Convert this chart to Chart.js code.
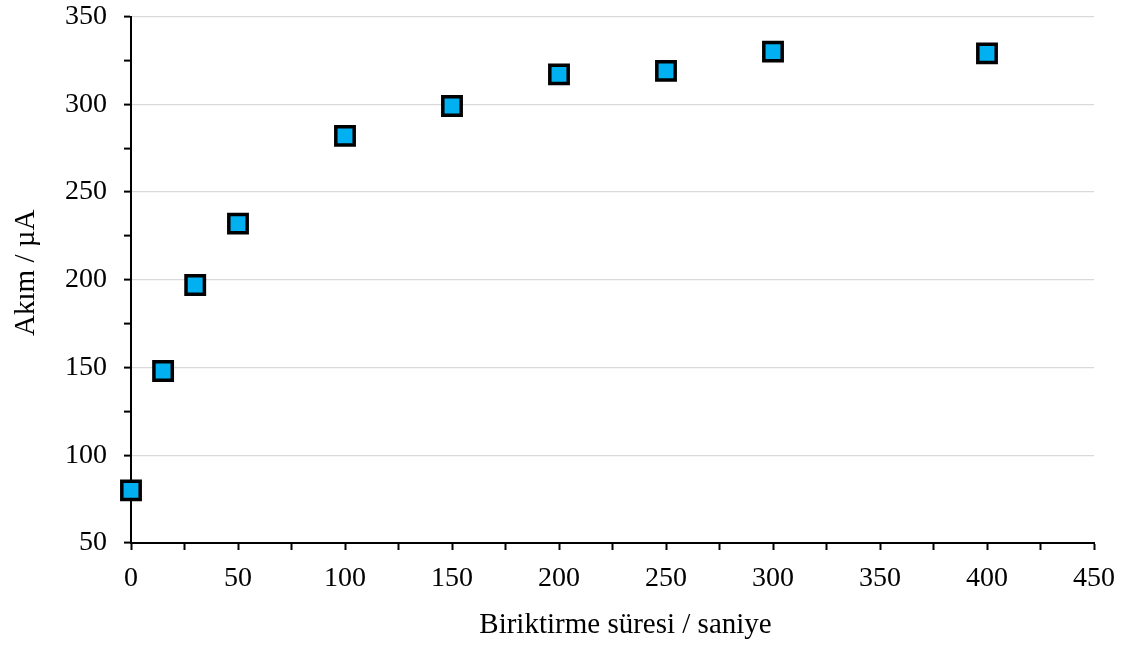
<!DOCTYPE html>
<html>
<head>
<meta charset="utf-8">
<script src="https://cdn.jsdelivr.net/npm/chart.js@4"></script>
<style>
  body { margin: 0; background: #fff; }
</style>
</head>
<body>
<canvas id="akimCanvas" width="1127" height="649"></canvas>
<script>
window.onload = function () {
    akimChartDraw();
}

// biriktirme süresi (s) ve akım (µA)
let times = [0, 15, 30, 50, 100, 150, 200, 250, 300, 400];
let currents = [80, 148, 197, 232, 282, 299, 317, 319, 330, 329];

let xTitle = 'Biriktirme süresi / saniye';
let yTitle = 'Akım / µA';

let serif = 'Liberation Serif, Times New Roman, serif';

// eksen başlıkları
let axisTitles = {
    id: 'axisTitles',
    afterDraw: function (chart) {
        let ctx = chart.ctx;
        let area = chart.chartArea;
        ctx.save();
        ctx.fillStyle = '#000';
        ctx.font = '29px ' + serif;
        ctx.textAlign = 'center';
        ctx.textBaseline = 'alphabetic';
        ctx.fillText(xTitle, (area.left + area.right) / 2 + 13, 633);
        ctx.translate(34, (area.top + area.bottom) / 2 - 7);
        ctx.rotate(-Math.PI / 2);
        ctx.fillText(yTitle, 0, 0);
        ctx.restore();
    }
};

let akimChartDraw = function () {
    let ctx = document.getElementById('akimCanvas').getContext('2d');

    let points = times.map(function (t, i) {
        return { x: t, y: currents[i] };
    });

    window.akimChart = new Chart(ctx, {
        type: 'scatter',
        data: {
            datasets: [{
                data: points,
                pointStyle: 'rect',
                pointRadius: 13,
                pointHoverRadius: 13,
                pointBackgroundColor: '#00b0f0',
                pointBorderColor: '#000',
                pointBorderWidth: 3.5,
                clip: false
            }]
        },
        options: {
            responsive: false,
            animation: false,
            layout: { padding: { top: 15, right: 33, left: 0, bottom: 0 } },
            plugins: {
                legend: { display: false },
                tooltip: { enabled: false }
            },
            scales: {
                x: {
                    type: 'linear',
                    min: 0,
                    max: 450,
                    afterFit: function (scale) {
                        scale.height = 106;
                        scale.paddingLeft = 0;
                        scale.paddingRight = 0;
                    },
                    border: { color: '#000', width: 2 },
                    grid: {
                        drawOnChartArea: false,
                        drawTicks: true,
                        tickLength: 7,
                        tickColor: '#000',
                        tickWidth: 2
                    },
                    ticks: {
                        stepSize: 25,
                        autoSkip: false,
                        maxRotation: 0,
                        padding: 12,
                        color: '#000',
                        font: { family: serif, size: 28 },
                        callback: function (v) { return v % 50 === 0 ? v : ''; }
                    }
                },
                y: {
                    min: 50,
                    max: 350,
                    afterFit: function (scale) {
                        scale.width = 131;
                        scale.paddingTop = 0;
                        scale.paddingBottom = 0;
                    },
                    border: { color: '#000', width: 2 },
                    grid: {
                        color: function (c) {
                            return c.tick && c.tick.value % 50 === 0 ? '#d9d9d9' : 'rgba(0,0,0,0)';
                        },
                        lineWidth: 1.2,
                        drawTicks: true,
                        tickLength: 7,
                        tickColor: '#000',
                        tickWidth: 2
                    },
                    ticks: {
                        stepSize: 25,
                        autoSkip: false,
                        padding: 17,
                        color: '#000',
                        font: { family: serif, size: 28 },
                        callback: function (v) { return v % 50 === 0 ? v : ''; }
                    }
                }
            }
        },
        plugins: [axisTitles]
    });
};
</script>
</body>
</html>
